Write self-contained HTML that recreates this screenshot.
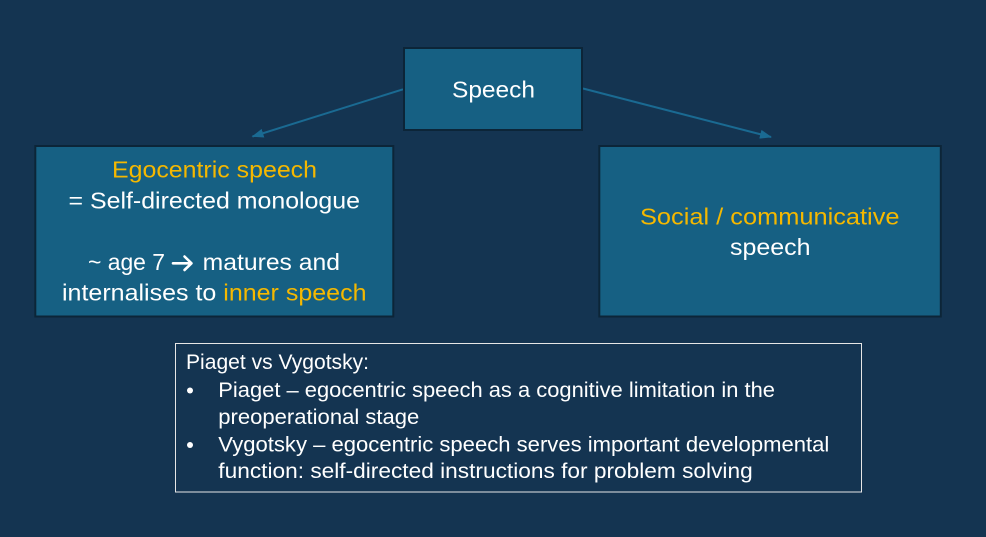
<!DOCTYPE html>
<html>
<head>
<meta charset="utf-8">
<style>
html,body{margin:0;padding:0;background:#143451;}
svg{display:block;}
text{font-family:"Liberation Sans","DejaVu Sans",sans-serif;}
</style>
</head>
<body>
<svg width="986" height="537" viewBox="0 0 986 537" xmlns="http://www.w3.org/2000/svg">
  <rect x="0" y="0" width="986" height="537" fill="#143451"/>
  <defs>
    <marker id="ah" markerWidth="12" markerHeight="9" refX="11" refY="4.5" orient="auto" markerUnits="userSpaceOnUse">
      <path d="M0,0 L12,4.5 L0,9 Z" fill="#1a6a92"/>
    </marker>
  </defs>

  <!-- connectors -->
  <line x1="403" y1="89.3" x2="252.5" y2="136.5" stroke="#1a6a92" stroke-width="2" marker-end="url(#ah)"/>
  <line x1="583" y1="88.5" x2="771" y2="137" stroke="#1a6a92" stroke-width="2" marker-end="url(#ah)"/>

  <!-- Speech box -->
  <rect x="404" y="48" width="178" height="82" fill="#166083" stroke="#0c2538" stroke-width="2"/>
  <text x="452" y="97.5" font-size="23.5" fill="#ffffff" textLength="83" lengthAdjust="spacingAndGlyphs">Speech</text>

  <!-- Left box -->
  <rect x="35.3" y="146" width="358" height="170.5" fill="#166083" stroke="#0c2538" stroke-width="2"/>
  <text x="112" y="177.5" font-size="23" fill="#f5b800" textLength="205" lengthAdjust="spacingAndGlyphs">Egocentric speech</text>
  <text x="68.5" y="208.3" font-size="23" fill="#ffffff" textLength="291.5" lengthAdjust="spacingAndGlyphs">= Self-directed monologue</text>
  <text x="88" y="270" font-size="23" fill="#ffffff" textLength="77" lengthAdjust="spacingAndGlyphs">~ age 7</text>
  <path d="M173,263.3 L191,263.3 M184.5,256.5 L191.5,263.3 L184.5,270" stroke="#ffffff" stroke-width="2.6" fill="none" stroke-linecap="round" stroke-linejoin="round"/>
  <text x="202.7" y="270" font-size="23" fill="#ffffff" textLength="137.3" lengthAdjust="spacingAndGlyphs">matures and</text>
  <text x="62" y="300.5" font-size="23" fill="#ffffff" textLength="304.5" lengthAdjust="spacingAndGlyphs">internalises to <tspan fill="#f5b800">inner speech</tspan></text>

  <!-- Right box -->
  <rect x="599.3" y="146" width="341.5" height="170.5" fill="#166083" stroke="#0c2538" stroke-width="2"/>
  <text x="640" y="224.3" font-size="23" fill="#f5b800" textLength="259.5" lengthAdjust="spacingAndGlyphs">Social / communicative</text>
  <text x="730" y="255" font-size="23" fill="#ffffff" textLength="80.5" lengthAdjust="spacingAndGlyphs">speech</text>

  <!-- Bottom box -->
  <rect x="175.5" y="343.5" width="686" height="148.5" fill="#143451" stroke="#e6e6e6" stroke-width="1"/>
  <text x="186" y="369" font-size="21" fill="#ffffff" textLength="183" lengthAdjust="spacingAndGlyphs">Piaget vs Vygotsky:</text>
  <circle cx="190" cy="390.5" r="3" fill="#ffffff"/>
  <text x="218.3" y="397" font-size="21" fill="#ffffff" textLength="556.7" lengthAdjust="spacingAndGlyphs">Piaget – egocentric speech as a cognitive limitation in the</text>
  <text x="218.3" y="424" font-size="21" fill="#ffffff" textLength="201" lengthAdjust="spacingAndGlyphs">preoperational stage</text>
  <circle cx="190" cy="445" r="3" fill="#ffffff"/>
  <text x="218.3" y="451.3" font-size="21" fill="#ffffff" textLength="611" lengthAdjust="spacingAndGlyphs">Vygotsky – egocentric speech serves important developmental</text>
  <text x="218.3" y="478" font-size="21" fill="#ffffff" textLength="534.4" lengthAdjust="spacingAndGlyphs">function: self-directed instructions for problem solving</text>
</svg>
</body>
</html>
